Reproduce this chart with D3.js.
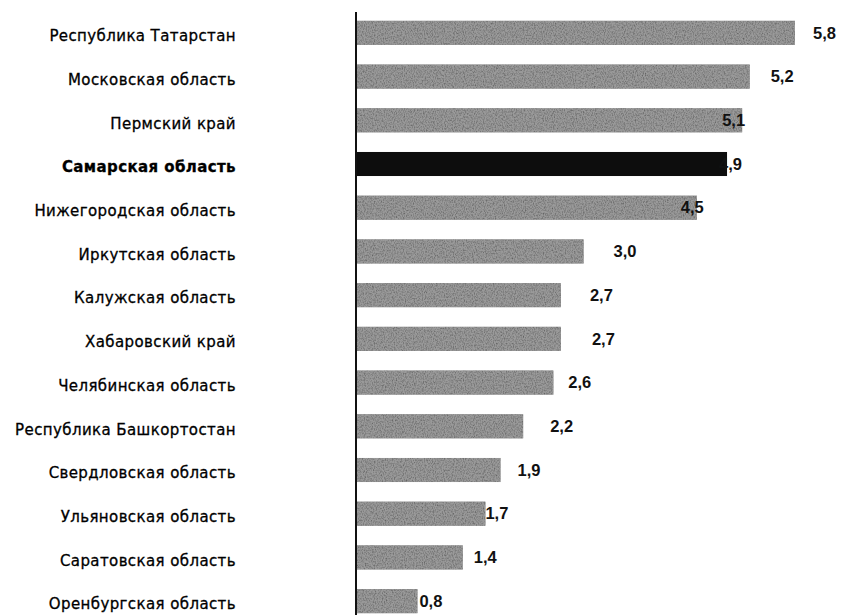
<html>
    <head>
        <script src="https://cdn.jsdelivr.net/npm/d3@7"></script>
        <style>
            body {
                margin: 0;
                background: #fff;
            }
            .cat text {
                font-family: "DejaVu Sans", sans-serif;
                font-size: 15px;
                letter-spacing: 0.4px;
                fill: #000;
                stroke: #000;
                stroke-width: 0.3px;
            }
            .val {
                font-family: "Liberation Sans", Arial, sans-serif;
                font-size: 16.5px;
                font-weight: bold;
                fill: #111;
            }
        </style>
    </head>
    <body>
        <svg id="chart"></svg>
    </body>
    <script>
        const WIDTH = 845
        const HEIGHT = 615

        // regions, top to bottom
        const regions = [
            "Республика Татарстан",
            "Московская область",
            "Пермский край",
            "Самарская область",
            "Нижегородская область",
            "Иркутская область",
            "Калужская область",
            "Хабаровский край",
            "Челябинская область",
            "Республика Башкортостан",
            "Свердловская область",
            "Ульяновская область",
            "Саратовская область",
            "Оренбургская область"
        ]
        const values = [5.8, 5.2, 5.1, 4.9, 4.5, 3.0, 2.7, 2.7, 2.6, 2.2, 1.9, 1.7, 1.4, 0.8]
        const highlighted = "Самарская область"

        // hand placed value labels in the original (px from bar end)
        const labelNudge = [18, 21, -20, -8, -16, 30, 29, 31, 15, 27, 17, 0, 11, 2]

        let data = regions.map((r, i) => ({region: r, value: values[i], nudge: labelNudge[i]}))

        let svg = d3.select("#chart")
            .attr("width", WIDTH)
            .attr("height", HEIGHT)

        // grainy fill, the source is a scanned print
        let defs = svg.append("defs")
        let grain = defs.append("filter")
            .attr("id", "grain")
            .attr("x", 0).attr("y", 0).attr("width", 1).attr("height", 1)
        grain.append("feTurbulence")
            .attr("type", "fractalNoise")
            .attr("baseFrequency", "0.9 0.6")
            .attr("numOctaves", 2)
            .attr("seed", 3)
            .attr("result", "noise")
        grain.append("feColorMatrix")
            .attr("in", "noise")
            .attr("type", "matrix")
            .attr("values", "0 0 0 0 0  0 0 0 0 0  0 0 0 0 0  0 0 0 -1.2 0.75")
            .attr("result", "dots")
        grain.append("feComposite")
            .attr("in", "dots")
            .attr("in2", "SourceGraphic")
            .attr("operator", "atop")
            .attr("result", "spots")
        grain.append("feMerge")
            .call(m => {
                m.append("feMergeNode").attr("in", "SourceGraphic")
                m.append("feMergeNode").attr("in", "spots")
            })

        let x = d3.scaleLinear()
            .domain([0, 5.8])
            .range([357, 795])

        let y = d3.scaleBand()
            .domain(regions)
            .range([11, 623])
            .paddingInner(0.45)
            .paddingOuter(0.225)

        // bars
        svg.append("g")
            .selectAll("rect")
            .data(data)
            .enter()
            .append("rect")
                .attr("x", x(0))
                .attr("y", d => y(d.region))
                .attr("width", d => x(d.value) - x(0))
                .attr("height", y.bandwidth())
                .attr("fill", d => d.region === highlighted ? "#0d0d0d" : "#9a9a9a")
                .attr("filter", d => d.region === highlighted ? null : "url(#grain)")

        // category axis (labels only + vertical line)
        let axis = svg.append("g")
            .attr("class", "cat")
            .attr("transform", `translate(${x(0) - 1},0)`)
            .call(d3.axisLeft(y).tickSize(0).tickPadding(120))

        axis.select(".domain")
            .attr("stroke", "#111")
            .attr("stroke-width", 2)
            .attr("d", `M0,12V615`)

        axis.selectAll("text")
            .attr("dy", "0.55em")
            .attr("font-weight", d => d === highlighted ? "bold" : null)

        // value labels, decimal comma
        let fmt = v => d3.format(".1f")(v).replace(".", ",")

        svg.append("g")
            .selectAll("text")
            .data(data)
            .enter()
            .append("text")
                .attr("class", "val")
                .attr("x", d => x(d.value) + d.nudge)
                .attr("y", d => y(d.region) + y.bandwidth() / 2)
                .attr("dy", "0.35em")
                .text(d => fmt(d.value))
    </script>
</html>
